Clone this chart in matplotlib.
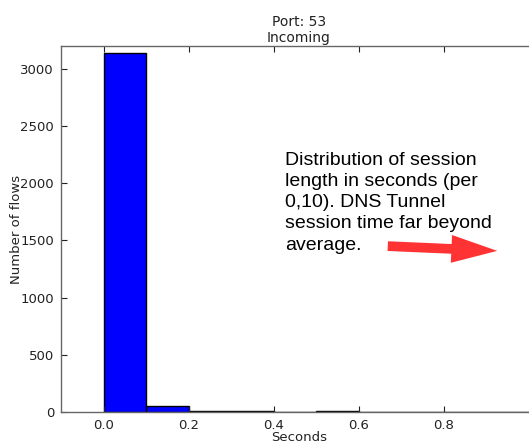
import matplotlib
matplotlib.use('Agg')
import matplotlib.pyplot as plt
from matplotlib.patches import FancyArrowPatch

# histogram of session lengths, bins of 0.1 s
bin_edges = [0.0, 0.1, 0.2, 0.3, 0.4, 0.5, 0.6, 0.7, 0.8, 0.9]
counts = [3140, 52, 8, 7, 0, 9, 0, 0, 0, 0]
bin_width = 0.1

xticks = [0.0, 0.2, 0.4, 0.6, 0.8]
yticks = [0, 500, 1000, 1500, 2000, 2500, 3000]

note = ("Distribution of session\nlength in seconds (per\n0,10). DNS Tunnel\n"
        "session time far beyond\naverage.")

W, H = 529, 443
fig = plt.figure(figsize=(W / 100, H / 100), dpi=100)
ax = fig.add_axes([61 / W, 31 / H, 476 / W, 366 / H])

ax.bar(bin_edges, counts, width=bin_width, align='edge',
       color='#0000ff', edgecolor='black', linewidth=1)

# axes run a little past the right edge of the picture
ax.set_xlim(-0.1, 1.02)
ax.set_ylim(0, 3200)
ax.set_xticks(xticks)
ax.set_yticks(yticks)
ax.tick_params(direction='in', length=4, top=True, right=True,
               labelsize=9.5, colors='#222222', pad=5)
for s in ax.spines.values():
    s.set_color('#666666')
    s.set_linewidth(1)

ax.set_title('Port: 53\nIncoming', fontsize=10, color='#222222', pad=3)
ax.set_xlabel('Seconds', fontsize=9.5, color='#222222', labelpad=-1)
ax.set_ylabel('Number of flows', fontsize=9.5, color='#222222', labelpad=-2)

fig.text(285 / W, 1 - 152 / H, note, family='Liberation Sans', fontsize=14,
         va='top', ha='left', linespacing=1.32, color='black')

arrow = FancyArrowPatch((385, H - 246), (500, H - 251), transform=None,
                        arrowstyle='simple,head_width=2.0,head_length=3.3,tail_width=0.7',
                        mutation_scale=10, color='#ff3333', lw=0)
fig.patches.append(arrow)

fig.savefig('out.png', dpi=100)
